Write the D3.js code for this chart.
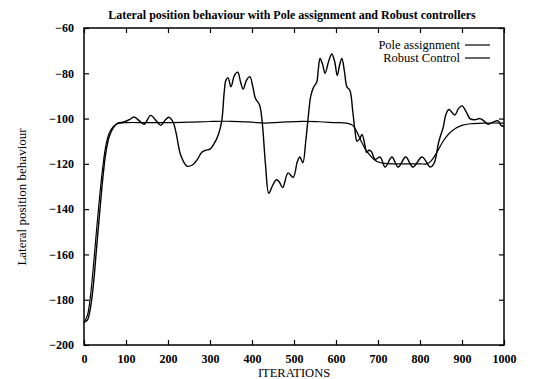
<!DOCTYPE html>
<html>
<head>
<meta charset="utf-8">
<script src="https://cdn.jsdelivr.net/npm/d3@7"></script>
<style>
  body { margin: 0; background: #fff; }
  svg text { font-family: "Liberation Serif", "DejaVu Serif", serif; fill: #000; }
</style>
</head>
<body>
<div id="chart"></div>
<script>
// iterations / values
const poleIter = [0, 8, 15, 22, 30, 38, 45, 52, 60, 70, 80, 95, 108, 119, 132, 143, 159, 172, 183, 194, 202, 212, 220, 230, 245, 258, 270, 280, 290, 300, 310, 320, 328, 334, 338, 343, 350, 358, 366, 373, 379, 387, 395, 402, 408, 418, 424, 432, 440, 448, 458, 465, 473, 486, 498, 508, 514, 521, 528, 533, 540, 547, 554, 558, 562, 568, 574, 582, 590, 597, 603, 609, 614, 620, 626, 633, 640, 645, 650, 656, 662, 668, 673, 678, 684, 693, 705, 717, 733, 748, 766, 783, 805, 824, 833, 845, 855, 862, 869, 877, 883, 892, 900, 910, 919, 930, 943, 952, 962, 975, 986, 993, 1000];
const poleValues = [-190, -189, -184, -174, -157, -140, -126, -115, -108, -104, -102, -101.5, -100.5, -99.3, -101, -102.5, -98.6, -101, -103, -100.5, -99.4, -101.5, -107, -116, -121, -120.5, -118, -115, -114, -113.5, -111, -107, -101, -88, -83, -82, -86, -81, -79.5, -84, -87, -83, -81.5, -86, -91, -94, -101, -120, -133, -130, -127, -128, -130.5, -124, -126, -119, -117, -119.5, -110, -101, -90, -86, -84, -78, -73.5, -76, -80, -75, -71.5, -75, -81, -76, -73.5, -79, -86, -87.5, -97, -105, -110, -109, -107, -111, -115, -114, -114.5, -118, -117, -121.4, -117, -121.4, -117, -121.4, -117, -121.4, -120, -110, -104, -98, -96, -97.5, -98.4, -95.5, -94.4, -97, -100, -100.5, -100, -101, -102.5, -101.5, -101, -103, -103.5];

const robustIter = [0, 8, 15, 22, 30, 38, 45, 52, 60, 70, 80, 100, 150, 200, 250, 300, 350, 400, 430, 470, 520, 560, 600, 625, 640, 650, 660, 670, 680, 690, 700, 715, 740, 800, 815, 825, 840, 855, 870, 885, 900, 920, 950, 1000];
const robustValues = [-190, -187, -179, -166, -149, -133, -121, -112, -106.5, -103.5, -102.3, -101.8, -101.8, -101.8, -101.6, -101.3, -101.2, -101.6, -102, -101.6, -101.2, -101.4, -101.8, -102, -103, -106, -110, -113.5, -116, -118, -119.2, -119.8, -120, -120, -120, -119, -115, -110, -106.5, -104.3, -103, -102.3, -102, -102];

const xTicks = [0, 100, 200, 300, 400, 500, 600, 700, 800, 900, 1000];
const yTicks = [-60, -80, -100, -120, -140, -160, -180, -200];
const seriesNames = ['Pole assignment', 'Robust Control'];

const margin = { top: 28, right: 30, bottom: 34, left: 84 };
const width = 534 - margin.left - margin.right;
const height = 379 - margin.top - margin.bottom;

const root = d3.select('#chart')
  .append('svg')
  .attr('width', 534)
  .attr('height', 379);

const svg = root.append('g')
  .attr('transform', 'translate(' + margin.left + ',' + margin.top + ')');

const x = d3.scaleLinear().domain([0, 1000]).range([0, width]);
const y = d3.scaleLinear().domain([-200, -60]).range([height, 0]);

// ticks pointing inward on all four sides, labels only bottom / left
const tickLen = 5;
svg.append('g')
  .attr('transform', 'translate(0,' + height + ')')
  .call(d3.axisBottom(x).tickValues(xTicks).tickFormat(d3.format('d')).tickSizeInner(-tickLen).tickSizeOuter(0).tickPadding(9))
  .call(g => g.select('.domain').remove())
  .call(g => g.selectAll('text').attr('font-size', 12).attr('font-weight', 'bold'));

svg.append('g')
  .call(d3.axisTop(x).tickValues(xTicks).tickSizeInner(-tickLen).tickSizeOuter(0).tickFormat(''))
  .call(g => g.select('.domain').remove());

svg.append('g')
  .call(d3.axisLeft(y).tickValues(yTicks).tickSizeInner(-tickLen).tickSizeOuter(0).tickPadding(10))
  .call(g => g.select('.domain').remove())
  .call(g => g.selectAll('text').attr('font-size', 12).attr('font-weight', 'bold'));

svg.append('g')
  .attr('transform', 'translate(' + width + ',0)')
  .call(d3.axisRight(y).tickValues(yTicks).tickSizeInner(-tickLen).tickSizeOuter(0).tickFormat(''))
  .call(g => g.select('.domain').remove());

svg.selectAll('.tick line').attr('stroke', '#000').attr('stroke-width', 1.2);
svg.selectAll('.tick text').attr('font-family', '"Liberation Serif", serif');

svg.append('rect')
  .attr('width', width)
  .attr('height', height)
  .attr('fill', 'none')
  .attr('stroke', '#000')
  .attr('stroke-width', 1.5);

const line = d3.line()
  .x(d => x(d[0]))
  .y(d => y(d[1]))
  .curve(d3.curveCatmullRom.alpha(0.5));

svg.append('path')
  .datum(d3.zip(poleIter, poleValues))
  .attr('fill', 'none')
  .attr('stroke', '#000')
  .attr('stroke-width', 1.4)
  .attr('d', line);

svg.append('path')
  .datum(d3.zip(robustIter, robustValues))
  .attr('fill', 'none')
  .attr('stroke', '#000')
  .attr('stroke-width', 1.2)
  .attr('d', line);

// legend
const legend = svg.append('g').attr('transform', 'translate(' + (width - 44) + ',17)');
seriesNames.forEach((name, i) => {
  legend.append('text')
    .attr('x', 0)
    .attr('y', i * 13)
    .attr('dy', '0.35em')
    .attr('text-anchor', 'end')
    .attr('font-size', 12.5)
    .text(name);
  legend.append('line')
    .attr('x1', 5).attr('x2', 30)
    .attr('y1', i * 13).attr('y2', i * 13)
    .attr('stroke', '#000')
    .attr('stroke-width', 1.2);
});

root.append('text')
  .attr('x', 292)
  .attr('y', 19)
  .attr('text-anchor', 'middle')
  .attr('font-size', 12)
  .attr('font-weight', 'bold')
  .text('Lateral position behaviour with Pole assignment and Robust controllers');

root.append('text')
  .attr('x', 294)
  .attr('y', 377)
  .attr('text-anchor', 'middle')
  .attr('font-size', 12.5)
  .text('ITERATIONS');

root.append('text')
  .attr('transform', 'translate(26,' + 197 + ') rotate(-90)')
  .attr('text-anchor', 'middle')
  .attr('font-size', 13)
  .text('Lateral position behaviour');
</script>
</body>
</html>
